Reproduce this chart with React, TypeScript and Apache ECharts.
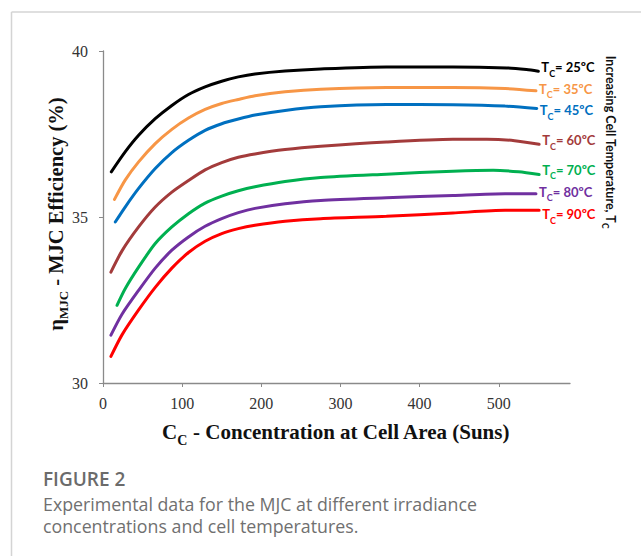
import React, { useEffect, useRef } from "react";
import * as echarts from "echarts";

// Data: [concentration (suns), efficiency (%)]
const T25 = [[10.5, 36.36], [28, 36.96], [45, 37.46], [66, 37.96], [87, 38.36], [108, 38.69], [129, 38.92], [150, 39.09], [171, 39.22], [192, 39.31], [230, 39.4], [275, 39.46], [358, 39.52], [442, 39.52], [510, 39.49], [535, 39.44], [550, 39.39]];
const T35 = [[14.5, 35.53], [28, 36.11], [45, 36.66], [66, 37.21], [87, 37.64], [108, 37.98], [129, 38.24], [150, 38.42], [171, 38.54], [192, 38.65], [230, 38.77], [275, 38.85], [358, 38.9], [442, 38.9], [508, 38.87], [547, 38.8]];
const T45 = [[15.5, 34.85], [28, 35.3], [45, 35.86], [66, 36.46], [87, 36.94], [108, 37.31], [129, 37.61], [150, 37.81], [171, 37.95], [192, 38.07], [230, 38.21], [275, 38.32], [358, 38.39], [442, 38.38], [508, 38.34], [548, 38.27]];
const T60 = [[10, 33.34], [24, 33.98], [45, 34.7], [66, 35.3], [87, 35.75], [108, 36.1], [129, 36.42], [150, 36.64], [171, 36.8], [192, 36.9], [230, 37.03], [275, 37.13], [358, 37.26], [442, 37.34], [485, 37.34], [520, 37.3], [551, 37.19]];
const T70 = [[17.7, 32.34], [28, 32.84], [45, 33.49], [66, 34.2], [87, 34.7], [108, 35.1], [129, 35.42], [150, 35.63], [171, 35.79], [192, 35.91], [230, 36.07], [275, 36.19], [358, 36.29], [442, 36.38], [493, 36.41], [525, 36.36], [551, 36.28]];
const T80 = [[10, 31.44], [24, 32.07], [45, 32.79], [66, 33.46], [87, 34.0], [108, 34.4], [129, 34.72], [150, 34.95], [171, 35.13], [192, 35.26], [230, 35.4], [275, 35.5], [358, 35.58], [442, 35.65], [508, 35.7], [547, 35.7]];
const T90 = [[10, 30.8], [24, 31.45], [45, 32.2], [66, 32.88], [87, 33.46], [108, 33.93], [129, 34.27], [150, 34.5], [171, 34.65], [192, 34.75], [230, 34.87], [275, 34.95], [358, 35.02], [442, 35.12], [508, 35.2], [551, 35.2]];

const TEMPERATURES = ["25", "35", "45", "60", "70", "80", "90"];
const SERIES_DATA = [T25, T35, T45, T60, T70, T80, T90];
const X_TICKS = [0, 100, 200, 300, 400, 500];
const Y_TICKS = [30, 35, 40];

const COLORS = ["#000000", "#F79646", "#0070C0", "#A33B3B", "#00B050", "#7030A0", "#FF0000"];
const LABEL_DY = [-4, -2, 2, -4, -5, -2, 4];

const SERIF = "'Liberation Serif', 'Times New Roman', serif";
const SANS = "'Open Sans', sans-serif";
const LABEL_FONT = "Lato, 'Open Sans', sans-serif";

export default function App() {
  const ref = useRef<HTMLDivElement>(null);

  useEffect(() => {
    if (!ref.current) return;
    const chart = echarts.init(ref.current, undefined, { renderer: "svg" });

    const series = SERIES_DATA.map((data, i) => ({
      type: "line",
      name: `T${TEMPERATURES[i]}`,
      data,
      smooth: 0.25,
      symbol: "none",
      lineStyle: { color: COLORS[i], width: 3, cap: "round" },
      itemStyle: { color: COLORS[i] },
      endLabel: {
        show: true,
        distance: 3,
        offset: [0, LABEL_DY[i]],
        formatter: `{t|T}{s|C}{t|= ${TEMPERATURES[i]}ºC}`,
        rich: {
          t: { fontFamily: LABEL_FONT, fontWeight: "bold", fontSize: 13, color: COLORS[i], lineHeight: 16, verticalAlign: "middle" },
          s: { fontFamily: LABEL_FONT, fontWeight: "bold", fontSize: 9, color: COLORS[i], lineHeight: 21, verticalAlign: "bottom" },
        },
      },
    }));

    chart.setOption({
      animation: false,
      backgroundColor: "#ffffff",
      grid: { left: 103, top: 51, width: 467, height: 332, containLabel: false },
      xAxis: {
        type: "value",
        min: 0,
        max: 590,
        interval: 100,
        axisLine: { show: true, lineStyle: { color: "#8a8a8a", width: 1.3 } },
        axisTick: { show: true, length: 4, inside: false, lineStyle: { color: "#8a8a8a" }, customValues: X_TICKS },
        axisLabel: { margin: 12, fontFamily: SERIF, fontSize: 16, color: "#333333", customValues: X_TICKS },
        splitLine: { show: false },
      },
      yAxis: {
        type: "value",
        min: 30,
        max: 40,
        interval: 5,
        axisLine: { show: true, lineStyle: { color: "#8a8a8a", width: 1.3 } },
        axisTick: { show: true, length: 4, lineStyle: { color: "#8a8a8a" }, customValues: Y_TICKS },
        axisLabel: { margin: 15, fontFamily: SERIF, fontSize: 16, color: "#333333", customValues: Y_TICKS },
        splitLine: { show: false },
      },
      series,
      graphic: [
        { type: "line", shape: { x1: 11.5, y1: 12, x2: 641, y2: 12 }, style: { stroke: "#d4d4d4", lineWidth: 1.5 } },
        { type: "line", shape: { x1: 11.5, y1: 12, x2: 11.5, y2: 556 }, style: { stroke: "#d4d4d4", lineWidth: 1.5 } },
        {
          type: "text",
          x: 336,
          y: 432,
          style: {
            text: "{m|C}{s|C}{m| - Concentration at Cell Area (Suns)}",
            align: "center",
            verticalAlign: "middle",
            textAlign: "center",
            textVerticalAlign: "middle",
            rich: {
              m: { fontFamily: SERIF, fontWeight: "bold", fontSize: 21, fill: "#111111", color: "#111111", lineHeight: 23, verticalAlign: "middle" },
              s: { fontFamily: SERIF, fontWeight: "bold", fontSize: 14, fill: "#111111", color: "#111111", lineHeight: 31, verticalAlign: "bottom" },
            },
          },
        },
        {
          type: "text",
          x: 56,
          y: 214,
          rotation: Math.PI / 2,
          style: {
            text: "{m|η}{s|MJC}{m| - MJC Efficiency (%)}",
            align: "center",
            verticalAlign: "middle",
            textAlign: "center",
            textVerticalAlign: "middle",
            rich: {
              m: { fontFamily: SERIF, fontWeight: "bold", fontSize: 20.5, fill: "#111111", color: "#111111", lineHeight: 22, verticalAlign: "middle" },
              s: { fontFamily: SERIF, fontWeight: "bold", fontSize: 13, fill: "#111111", color: "#111111", lineHeight: 28, verticalAlign: "bottom" },
            },
          },
        },
        {
          type: "text",
          x: 610,
          y: 142,
          rotation: -Math.PI / 2,
          style: {
            text: "{m|Increasing Cell Temperature, T}{s|C}",
            align: "center",
            verticalAlign: "middle",
            textAlign: "center",
            textVerticalAlign: "middle",
            rich: {
              m: { fontFamily: LABEL_FONT, fontWeight: "bold", fontSize: 12.5, fill: "#111111", color: "#111111", lineHeight: 15, verticalAlign: "middle" },
              s: { fontFamily: LABEL_FONT, fontWeight: "bold", fontSize: 8.5, fill: "#111111", color: "#111111", lineHeight: 20, verticalAlign: "bottom" },
            },
          },
        },
        {
          type: "text",
          x: 43,
          y: 479,
          style: { text: "FIGURE 2", font: `600 19px ${SANS}`, fill: "#6b6b6b", align: "left", verticalAlign: "middle", textAlign: "left", textVerticalAlign: "middle" },
        },
        {
          type: "text",
          x: 43,
          y: 504,
          style: { text: "Experimental data for the MJC at different irradiance", font: `17.8px ${SANS}`, fill: "#707070", align: "left", verticalAlign: "middle", textAlign: "left", textVerticalAlign: "middle" },
        },
        {
          type: "text",
          x: 43,
          y: 526,
          style: { text: "concentrations and cell temperatures.", font: `17.8px ${SANS}`, fill: "#707070", align: "left", verticalAlign: "middle", textAlign: "left", textVerticalAlign: "middle" },
        },
      ],
    });

    return () => chart.dispose();
  }, []);

  return <div ref={ref} style={{ position: "fixed", left: 0, top: 0, width: 641, height: 556, background: "#fff" }} />;
}
